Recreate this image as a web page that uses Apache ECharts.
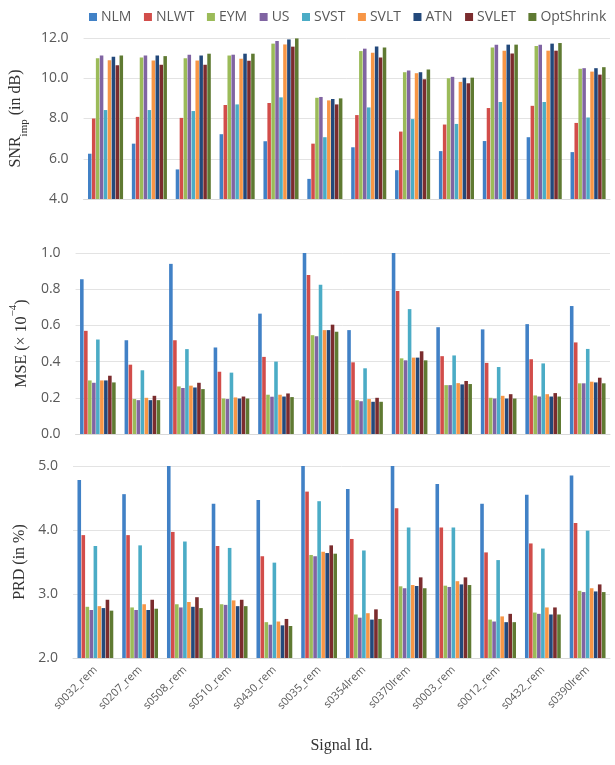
<!DOCTYPE html>
<html>
<head>
<meta charset="utf-8">
<script src="https://cdn.jsdelivr.net/npm/echarts@6/dist/echarts.min.js"></script>
<style>
  html, body { margin: 0; padding: 0; background: #fff; }
  #chart { width: 615px; height: 765px; }
</style>
</head>
<body>
<div id="chart"></div>
<script>
// signal ids on the x axis
const signals = ['s0032_rem', 's0207_rem', 's0508_rem', 's0510_rem', 's0430_rem', 's0035_rem',
  's0354lrem', 's0370lrem', 's0003_rem', 's0012_rem', 's0432_rem', 's0390lrem'];

const methods = ['NLM', 'NLWT', 'EYM', 'US', 'SVST', 'SVLT', 'ATN', 'SVLET', 'OptShrink'];
const methodColors = ['#4181C6', '#D24D4A', '#9BBB59', '#8064A2', '#4BACC6', '#F79646', '#23497B', '#7B2C2E', '#5F7A32'];

// SNR_imp (dB), one row per method
const snrValues = [
  [6.25, 6.75, 5.47, 7.22, 6.87, 5.0, 6.57, 5.43, 6.38, 6.88, 7.07, 6.33],         // NLM
  [8.0, 8.08, 8.03, 8.67, 8.77, 6.75, 8.17, 7.35, 7.7, 8.52, 8.63, 7.78],         // NLWT
  [11.0, 11.03, 11.0, 11.13, 11.72, 9.03, 11.35, 10.3, 10.0, 11.53, 11.6, 10.47], // EYM
  [11.13, 11.13, 11.17, 11.17, 11.85, 9.07, 11.47, 10.38, 10.07, 11.67, 11.67, 10.5], // US
  [8.42, 8.42, 8.37, 8.7, 9.05, 7.07, 8.55, 7.97, 7.73, 8.82, 8.82, 8.05],        // SVST
  [10.9, 10.88, 10.88, 10.97, 11.68, 8.9, 11.27, 10.25, 9.82, 11.37, 11.37, 10.33], // SVLT
  [11.07, 11.13, 11.13, 11.22, 11.93, 8.97, 11.58, 10.3, 10.03, 11.67, 11.72, 10.5], // ATN
  [10.65, 10.67, 10.67, 10.87, 11.57, 8.7, 11.03, 9.95, 9.75, 11.23, 11.37, 10.18], // SVLET
  [11.13, 11.1, 11.22, 11.22, 11.98, 9.0, 11.53, 10.43, 10.03, 11.67, 11.75, 10.55] // OptShrink
];

// MSE (x 1e-4)
const mseValues = [
  [0.855, 0.518, 0.94, 0.478, 0.665, 1.0, 0.574, 1.0, 0.59, 0.578, 0.607, 0.707],
  [0.57, 0.383, 0.518, 0.344, 0.426, 0.878, 0.396, 0.79, 0.43, 0.393, 0.413, 0.506],
  [0.296, 0.193, 0.263, 0.196, 0.217, 0.546, 0.187, 0.418, 0.27, 0.2, 0.213, 0.28],
  [0.283, 0.187, 0.254, 0.193, 0.206, 0.54, 0.181, 0.407, 0.27, 0.196, 0.207, 0.28],
  [0.522, 0.352, 0.469, 0.339, 0.4, 0.824, 0.363, 0.69, 0.434, 0.37, 0.39, 0.47],
  [0.296, 0.2, 0.267, 0.202, 0.217, 0.574, 0.193, 0.422, 0.281, 0.211, 0.22, 0.289],
  [0.296, 0.187, 0.257, 0.196, 0.207, 0.574, 0.178, 0.422, 0.274, 0.196, 0.207, 0.285],
  [0.322, 0.211, 0.283, 0.207, 0.224, 0.604, 0.2, 0.457, 0.293, 0.22, 0.226, 0.311],
  [0.285, 0.187, 0.248, 0.196, 0.204, 0.565, 0.178, 0.407, 0.276, 0.196, 0.207, 0.28]
];

// PRD (%)
const prdValues = [
  [4.78, 4.56, 5.0, 4.41, 4.47, 5.0, 4.64, 5.0, 4.72, 4.41, 4.55, 4.85],
  [3.92, 3.92, 3.97, 3.75, 3.59, 4.6, 3.86, 4.34, 4.04, 3.65, 3.79, 4.11],
  [2.8, 2.79, 2.84, 2.84, 2.56, 3.61, 2.68, 3.12, 3.13, 2.6, 2.71, 3.05],
  [2.75, 2.75, 2.79, 2.83, 2.52, 3.59, 2.63, 3.09, 3.11, 2.57, 2.69, 3.03],
  [3.75, 3.76, 3.82, 3.72, 3.49, 4.45, 3.68, 4.04, 4.04, 3.53, 3.71, 3.99],
  [2.81, 2.84, 2.875, 2.9, 2.57, 3.66, 2.7, 3.14, 3.2, 2.65, 2.79, 3.09],
  [2.78, 2.75, 2.8, 2.81, 2.51, 3.64, 2.6, 3.125, 3.15, 2.56, 2.68, 3.04],
  [2.91, 2.91, 2.95, 2.91, 2.61, 3.76, 2.76, 3.26, 3.26, 2.69, 2.79, 3.15],
  [2.74, 2.77, 2.78, 2.81, 2.5, 3.63, 2.61, 3.09, 3.14, 2.56, 2.68, 3.03]
];

const chart = echarts.init(document.getElementById('chart'));

const tickFont = { fontFamily: 'Open Sans', fontSize: 14, color: '#595959' };
const serif = 'Liberation Serif';
const gridLine = { lineStyle: { color: '#E3E3E3' } };

function xAxisFor(idx, showLabels) {
  return {
    type: 'category',
    gridIndex: idx,
    data: signals,
    axisTick: { show: false },
    axisLine: { lineStyle: { color: '#D9D9D9' } },
    axisLabel: showLabels
      ? { rotate: 45, fontFamily: 'Open Sans', fontSize: 11, color: '#595959', margin: 10 }
      : { show: false },
    name: showLabels ? 'Signal Id.' : '',
    nameLocation: 'middle',
    nameGap: 80,
    nameTextStyle: { fontFamily: serif, fontSize: 16, color: '#333' }
  };
}

function yAxisFor(idx, min, max, interval, name, rich) {
  return {
    type: 'value',
    gridIndex: idx,
    min: min,
    max: max,
    interval: interval,
    axisLabel: Object.assign({ formatter: v => v.toFixed(1), margin: 15 }, tickFont),
    axisLine: { show: false },
    axisTick: { show: false },
    splitLine: gridLine,
    name: name,
    nameLocation: 'middle',
    nameRotate: 90,
    nameGap: 41,
    nameTextStyle: { fontFamily: serif, fontSize: 16, color: '#333', rich: rich }
  };
}

const richBase = {
  a: { fontFamily: serif, fontSize: 16, color: '#333' },
  sub: { fontFamily: serif, fontSize: 11, color: '#333', verticalAlign: 'bottom', padding: [0, 0, -6, 0] },
  sup: { fontFamily: serif, fontSize: 11, color: '#333', verticalAlign: 'top', padding: [-6, 0, 0, 0] }
};

const series = [];
[snrValues, mseValues, prdValues].forEach((block, gi) => {
  block.forEach((row, mi) => {
    series.push({
      name: methods[mi],
      type: 'bar',
      xAxisIndex: gi,
      yAxisIndex: gi,
      data: row,
      barGap: '12%',
      barCategoryGap: '20%',
      itemStyle: { color: methodColors[mi] },
      clip: true
    });
  });
});

const option = {
  animation: false,
  color: methodColors,
  legend: {
    data: methods,
    top: 5,
    left: 84,
    itemWidth: 8,
    itemHeight: 8,
    itemGap: 12.5,
    icon: 'rect',
    textStyle: { fontFamily: 'Open Sans', fontSize: 14, color: '#595959', padding: [0, 0, 0, -1] }
  },
  grid: [
    { left: 73, right: 5, top: 38, height: 161 },
    { left: 73, right: 5, top: 253, height: 181 },
    { left: 73, right: 5, top: 466, height: 192 }
  ],
  xAxis: [xAxisFor(0, false), xAxisFor(1, false), xAxisFor(2, true)],
  yAxis: [
    yAxisFor(0, 4, 12, 2, '{a|SNR}{sub|imp}{a| (in dB)}', richBase),
    yAxisFor(1, 0, 1, 0.2, '{a|MSE (× 10}{sup|−4}{a|)}', richBase),
    yAxisFor(2, 2, 5, 1, 'PRD (in %)', richBase)
  ],
  series: series
};

chart.setOption(option);
</script>
</body>
</html>
